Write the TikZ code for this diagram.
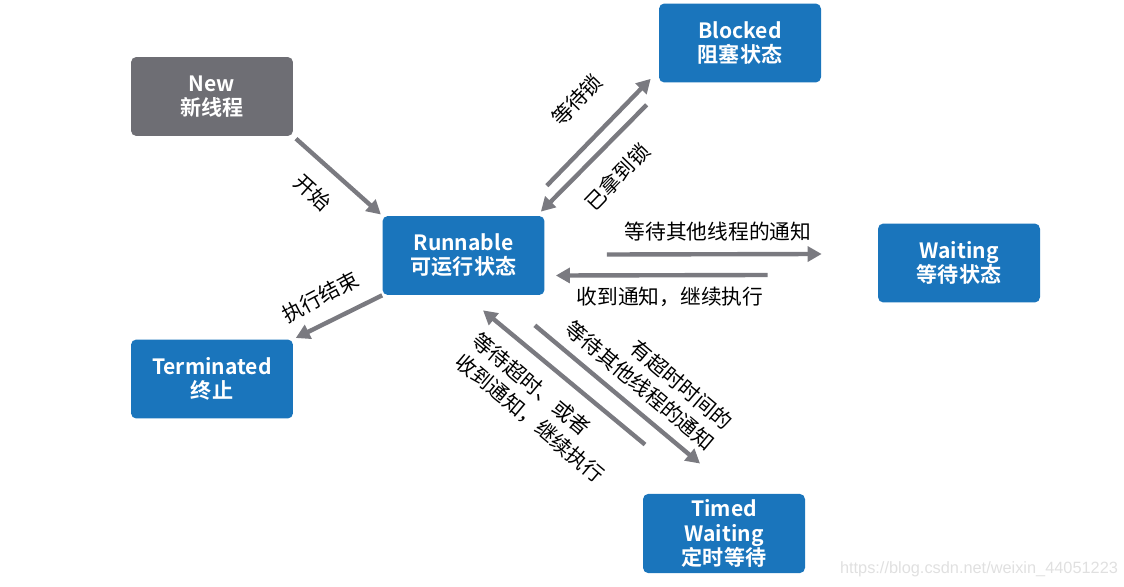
\documentclass[tikz,border=0pt]{standalone}
\usepackage{fontspec}
\setmainfont{Noto Sans CJK SC}[BoldFont={Noto Sans CJK SC Bold}]
\newfontfamily\urlfont{Liberation Sans}
\usetikzlibrary{arrows.meta,calc}
\definecolor{stateblue}{RGB}{26,117,188}
\definecolor{stategray}{RGB}{110,110,116}
\definecolor{arrowgray}{RGB}{122,122,128}

\begin{document}
\begin{tikzpicture}[x=0.02cm,y=-0.02cm,
  state/.style={fill=stateblue, text=white, rounded corners=3pt,
    minimum width=3.24cm, minimum height=1.58cm, align=center,
    font=\fontsize{12}{13.8}\selectfont\bfseries},
  move/.style={draw=arrowgray, line width=2.5pt, -{Triangle[length=8pt,width=8.5pt]}},
  lbl/.style={font=\fontsize{11.8}{15.3}\selectfont}]
\useasboundingbox (0,0) rectangle (1124,587);

\node[state, fill=stategray] (new) at (212,96.5) {New\\新线程};
\node[state] (runnable) at (463.5,255.5) {Runnable\\可运行状态};
\node[state] (blocked) at (740,43) {Blocked\\阻塞状态};
\node[state] (waiting) at (959,263) {Waiting\\等待状态};
\node[state] (terminated) at (212,379) {Terminated\\终止};
\node[state] (timed) at (724,533.5) {Timed\\Waiting\\定时等待};

\draw[move, shorten <=2pt, shorten >=1pt] (new.south east) -- (runnable.north west);
\draw[move, shorten >=1.5pt] (runnable.south west) -- (terminated.north east);
\draw[move] ($(runnable.north east)+(2,-30)$) -- ($(blocked.south west)+(-8,-4)$);
\draw[move] ($(blocked.south west)+(-12,22)$) -- ($(runnable.north east)+(-4,-4)$);
\draw[move] ($(runnable.east)+(62,-1)$) -- ($(waiting.west)+(-56,-9)$);
\draw[move] ($(waiting.west)+(-110,12)$) -- ($(runnable.east)+(11,20)$);
\draw[move] ($(runnable.south east)+(-10,30)$) -- ($(timed.north)+(-24,-30)$);
\draw[move] ($(timed.north)+(-79,-49)$) -- ($(runnable.south)+(19.5,15)$);

\node[lbl, rotate=-42] (start) at (313,193) {开始};
\node[lbl, rotate=28] (finish) at (320,297) {执行结束};
\node[lbl, rotate=46] (lockwait) at (577,100) {等待锁};
\node[lbl, rotate=46] (lockgot) at (617,177) {已拿到锁};
\node[lbl] (notifywait) at (718,232) {等待其他线程的通知};
\node[lbl] (notifygot) at (670,297) {收到通知，继续执行};
\node[lbl, rotate=-40, align=right] (timedwait) at (649,375) {有超时时间的\\等待其他线程的通知};
\node[lbl, rotate=-40, align=left] (timedback) at (538.7,408) {等待超时、或者\\收到通知，继续执行};

\node[text=black!12, font=\urlfont\fontsize{9.3}{11}\selectfont] (mark) at (979,569) {https://blog.csdn.net/weixin\_44051223};
\end{tikzpicture}
\end{document}
